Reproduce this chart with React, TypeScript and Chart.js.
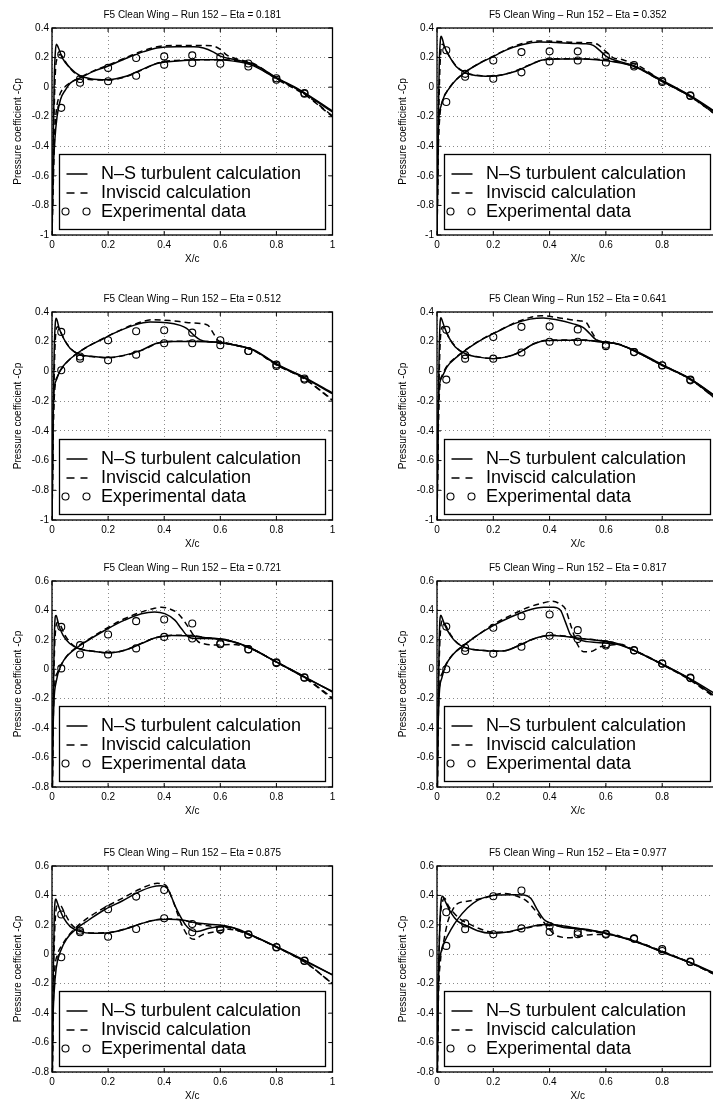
import React, { useEffect, useRef } from 'react';
import { Chart, registerables } from 'chart.js';

Chart.register(...registerables);

type P = [number, number];

// ---------- shared values ----------
const EXP_X = [0.033, 0.1, 0.2, 0.3, 0.4, 0.5, 0.6, 0.7, 0.8, 0.9];
const X_TICKS = [0, 0.2, 0.4, 0.6, 0.8, 1];
const Y_TICKS_A = [-1, -0.8, -0.6, -0.4, -0.2, 0, 0.2, 0.4];
const Y_TICKS_B = [-0.8, -0.6, -0.4, -0.2, 0, 0.2, 0.4, 0.6];
const LEGEND_LABELS = ['N–S turbulent calculation', 'Inviscid calculation', 'Experimental data'];
const ETAS = ['0.181', '0.352', '0.512', '0.641', '0.721', '0.817', '0.875', '0.977'];

// ---------- Eta = 0.181 ----------
const NS_UP_181: P[] = [[0,-1],[0.004,-0.6],[0.01,-0.36],[0.018,-0.2],[0.03,-0.085],[0.048,-0.018],[0.065,0.027],[0.1,0.062],[0.148,0.107],[0.196,0.14],[0.267,0.197],[0.327,0.24],[0.374,0.265],[0.445,0.274],[0.505,0.274],[0.54,0.265],[0.576,0.237],[0.6,0.21],[0.647,0.188],[0.718,0.155],[0.8,0.065],[0.885,-0.02],[1,-0.162]];
const NS_LO_181: P[] = [[0,-1],[0.004,-0.4],[0.008,0.05],[0.012,0.24],[0.016,0.29],[0.022,0.27],[0.036,0.2],[0.065,0.13],[0.1,0.077],[0.137,0.057],[0.196,0.05],[0.267,0.075],[0.315,0.115],[0.374,0.16],[0.469,0.18],[0.53,0.185],[0.588,0.185],[0.647,0.176],[0.707,0.152],[0.8,0.06],[0.885,-0.025],[1,-0.168]];
const INV_UP_181: P[] = [[0,-1],[0.006,-0.55],[0.01,-0.3],[0.016,-0.15],[0.026,-0.06],[0.045,0],[0.065,0.03],[0.1,0.065],[0.15,0.112],[0.2,0.148],[0.27,0.205],[0.33,0.25],[0.38,0.275],[0.45,0.282],[0.52,0.282],[0.57,0.28],[0.6,0.255],[0.625,0.215],[0.66,0.19],[0.72,0.158],[0.8,0.06],[0.9,-0.045],[1,-0.195]];
const INV_LO_181: P[] = [[0,-1],[0.006,-0.3],[0.012,0.1],[0.02,0.2],[0.03,0.22],[0.045,0.18],[0.065,0.125],[0.1,0.07],[0.14,0.05],[0.2,0.048],[0.27,0.075],[0.32,0.115],[0.38,0.165],[0.47,0.183],[0.55,0.185],[0.6,0.185],[0.65,0.18],[0.72,0.15],[0.8,0.055],[0.9,-0.05],[1,-0.2]];
const EXP_UP_181 = [-0.14, 0.055, 0.13, 0.197, 0.208, 0.215, 0.203, 0.16, 0.06, -0.04];
const EXP_LO_181 = [0.22, 0.03, 0.04, 0.077, 0.152, 0.163, 0.158, 0.14, 0.05, -0.045];

// ---------- Eta = 0.352 ----------
const NS_UP_352: P[] = [[0,-1],[0.003,-0.5],[0.006,-0.24],[0.014,-0.13],[0.026,-0.06],[0.044,-0.006],[0.068,0.05],[0.103,0.105],[0.15,0.16],[0.198,0.205],[0.245,0.25],[0.305,0.288],[0.364,0.305],[0.423,0.302],[0.483,0.296],[0.53,0.293],[0.555,0.282],[0.58,0.245],[0.6,0.21],[0.62,0.19],[0.7,0.145],[0.8,0.045],[0.9,-0.058],[1,-0.18]];
const NS_LO_352: P[] = [[0,-1],[0.004,-0.3],[0.008,0.15],[0.012,0.32],[0.015,0.345],[0.02,0.32],[0.026,0.276],[0.044,0.208],[0.068,0.14],[0.1,0.097],[0.139,0.078],[0.186,0.073],[0.234,0.084],[0.28,0.107],[0.33,0.15],[0.376,0.184],[0.447,0.19],[0.518,0.19],[0.566,0.186],[0.613,0.176],[0.696,0.142],[0.8,0.04],[0.9,-0.062],[1,-0.185]];
const INV_UP_352: P[] = [[0,-1],[0.005,-0.4],[0.01,-0.2],[0.02,-0.09],[0.035,-0.03],[0.06,0.035],[0.1,0.1],[0.15,0.162],[0.2,0.21],[0.25,0.258],[0.3,0.293],[0.35,0.312],[0.42,0.31],[0.48,0.303],[0.54,0.3],[0.57,0.29],[0.6,0.24],[0.625,0.2],[0.66,0.185],[0.72,0.14],[0.8,0.042],[0.9,-0.062],[1,-0.2]];
const INV_LO_352: P[] = [[0,-1],[0.006,-0.2],[0.012,0.2],[0.02,0.29],[0.03,0.26],[0.045,0.205],[0.07,0.14],[0.1,0.1],[0.14,0.08],[0.19,0.075],[0.235,0.085],[0.28,0.11],[0.33,0.152],[0.38,0.186],[0.45,0.192],[0.52,0.192],[0.57,0.188],[0.62,0.178],[0.7,0.14],[0.8,0.038],[0.9,-0.065],[1,-0.2]];
const EXP_UP_352 = [-0.1, 0.09, 0.18, 0.237, 0.242, 0.242, 0.21, 0.15, 0.043, -0.056];
const EXP_LO_352 = [0.25, 0.07, 0.057, 0.1, 0.174, 0.18, 0.167, 0.14, 0.035, -0.06];

// ---------- Eta = 0.512 ----------
const NS_UP_512: P[] = [[0,-1],[0.003,-0.5],[0.006,-0.17],[0.015,-0.06],[0.03,0.008],[0.053,0.064],[0.089,0.12],[0.125,0.165],[0.172,0.21],[0.232,0.266],[0.291,0.31],[0.35,0.332],[0.41,0.328],[0.457,0.31],[0.48,0.29],[0.505,0.245],[0.529,0.212],[0.564,0.2],[0.6,0.195],[0.65,0.178],[0.72,0.145],[0.8,0.05],[0.9,-0.04],[1,-0.145]];
const NS_LO_512: P[] = [[0,-1],[0.004,-0.3],[0.008,0.15],[0.012,0.33],[0.015,0.358],[0.019,0.34],[0.024,0.3],[0.042,0.22],[0.065,0.155],[0.1,0.113],[0.137,0.102],[0.196,0.093],[0.255,0.108],[0.315,0.14],[0.374,0.19],[0.433,0.202],[0.505,0.202],[0.576,0.198],[0.647,0.18],[0.719,0.142],[0.8,0.048],[0.897,-0.042],[1,-0.15]];
const INV_UP_512: P[] = [[0,-1],[0.005,-0.35],[0.01,-0.12],[0.02,-0.03],[0.035,0.02],[0.06,0.075],[0.09,0.123],[0.13,0.17],[0.18,0.22],[0.24,0.275],[0.3,0.322],[0.36,0.348],[0.42,0.342],[0.48,0.33],[0.53,0.322],[0.555,0.312],[0.576,0.254],[0.59,0.212],[0.61,0.198],[0.66,0.175],[0.72,0.14],[0.8,0.045],[0.9,-0.05],[1,-0.195]];
const INV_LO_512: P[] = [[0,-1],[0.006,-0.2],[0.012,0.22],[0.02,0.3],[0.03,0.27],[0.045,0.21],[0.07,0.148],[0.1,0.112],[0.14,0.1],[0.2,0.092],[0.26,0.108],[0.32,0.142],[0.38,0.192],[0.44,0.203],[0.51,0.203],[0.58,0.198],[0.65,0.178],[0.72,0.14],[0.8,0.045],[0.9,-0.05],[1,-0.19]];
const EXP_UP_512 = [0.008, 0.1, 0.21, 0.27, 0.277, 0.261, 0.21, 0.138, 0.046, -0.048];
const EXP_LO_512 = [0.266, 0.086, 0.075, 0.113, 0.19, 0.19, 0.176, 0.138, 0.037, -0.055];

// ---------- Eta = 0.641 ----------
const NS_UP_641: P[] = [[0,-1],[0.003,-0.5],[0.006,-0.15],[0.018,-0.037],[0.035,0.03],[0.071,0.098],[0.118,0.165],[0.165,0.221],[0.213,0.266],[0.272,0.32],[0.331,0.352],[0.378,0.36],[0.425,0.348],[0.484,0.32],[0.52,0.295],[0.543,0.254],[0.567,0.21],[0.59,0.2],[0.64,0.185],[0.71,0.135],[0.8,0.045],[0.9,-0.05],[1,-0.18]];
const NS_LO_641: P[] = [[0,-1],[0.004,-0.3],[0.008,0.15],[0.011,0.33],[0.014,0.362],[0.018,0.345],[0.026,0.3],[0.041,0.232],[0.065,0.165],[0.1,0.12],[0.142,0.098],[0.2,0.086],[0.248,0.098],[0.295,0.131],[0.343,0.185],[0.39,0.208],[0.449,0.21],[0.52,0.21],[0.58,0.198],[0.638,0.187],[0.709,0.131],[0.8,0.042],[0.898,-0.048],[1,-0.185]];
const INV_UP_641: P[] = [[0,-1],[0.005,-0.35],[0.01,-0.1],[0.02,-0.02],[0.035,0.035],[0.07,0.1],[0.12,0.17],[0.17,0.228],[0.22,0.275],[0.28,0.33],[0.33,0.362],[0.37,0.375],[0.42,0.365],[0.47,0.35],[0.51,0.34],[0.53,0.33],[0.55,0.265],[0.57,0.21],[0.6,0.198],[0.65,0.182],[0.71,0.13],[0.8,0.04],[0.9,-0.055],[1,-0.2]];
const INV_LO_641: P[] = [[0,-1],[0.006,-0.2],[0.012,0.22],[0.02,0.3],[0.03,0.275],[0.045,0.22],[0.07,0.158],[0.1,0.12],[0.14,0.1],[0.2,0.088],[0.25,0.1],[0.3,0.135],[0.345,0.188],[0.39,0.21],[0.45,0.212],[0.52,0.212],[0.58,0.2],[0.64,0.185],[0.71,0.13],[0.8,0.04],[0.9,-0.052],[1,-0.2]];
const EXP_UP_641 = [-0.055, 0.11, 0.232, 0.3, 0.303, 0.283, 0.18, 0.13, 0.042, -0.055];
const EXP_LO_641 = [0.28, 0.086, 0.086, 0.127, 0.2, 0.2, 0.17, 0.13, 0.04, -0.06];

// ---------- Eta = 0.721 ----------
const NS_UP_721: P[] = [[0,-1],[0.003,-0.5],[0.007,-0.22],[0.015,-0.084],[0.033,0.029],[0.057,0.097],[0.093,0.153],[0.14,0.21],[0.2,0.277],[0.259,0.334],[0.319,0.378],[0.366,0.39],[0.402,0.378],[0.438,0.334],[0.461,0.277],[0.485,0.222],[0.509,0.21],[0.556,0.21],[0.628,0.195],[0.7,0.15],[0.8,0.05],[0.9,-0.055],[1,-0.15]];
const NS_LO_721: P[] = [[0,-1],[0.004,-0.25],[0.008,0.2],[0.012,0.36],[0.015,0.365],[0.019,0.34],[0.024,0.3],[0.039,0.232],[0.063,0.175],[0.099,0.137],[0.14,0.124],[0.2,0.112],[0.259,0.13],[0.319,0.175],[0.366,0.212],[0.426,0.23],[0.485,0.228],[0.556,0.214],[0.628,0.198],[0.699,0.153],[0.794,0.056],[0.9,-0.05],[1,-0.155]];
const INV_UP_721: P[] = [[0,-1],[0.005,-0.3],[0.01,-0.1],[0.02,-0.02],[0.035,0.04],[0.06,0.105],[0.095,0.16],[0.14,0.215],[0.2,0.285],[0.26,0.345],[0.32,0.39],[0.36,0.412],[0.39,0.422],[0.42,0.41],[0.449,0.38],[0.485,0.29],[0.52,0.19],[0.545,0.172],[0.59,0.165],[0.64,0.168],[0.7,0.148],[0.8,0.048],[0.9,-0.058],[1,-0.2]];
const INV_LO_721: P[] = [[0,-1],[0.006,-0.1],[0.012,0.25],[0.02,0.32],[0.03,0.3],[0.045,0.235],[0.07,0.172],[0.1,0.14],[0.14,0.125],[0.2,0.112],[0.26,0.13],[0.32,0.178],[0.37,0.215],[0.43,0.232],[0.49,0.23],[0.55,0.215],[0.62,0.198],[0.7,0.15],[0.8,0.05],[0.9,-0.055],[1,-0.195]];
const EXP_UP_721 = [0.006, 0.164, 0.236, 0.327, 0.338, 0.311, 0.176, 0.137, 0.047, -0.055];
const EXP_LO_721 = [0.288, 0.1, 0.1, 0.142, 0.22, 0.209, 0.17, 0.135, 0.042, -0.058];

// ---------- Eta = 0.817 ----------
const NS_UP_817: P[] = [[0,-1],[0.003,-0.5],[0.008,-0.17],[0.017,-0.06],[0.032,0.03],[0.055,0.097],[0.097,0.164],[0.144,0.232],[0.203,0.3],[0.262,0.355],[0.321,0.4],[0.38,0.422],[0.415,0.422],[0.439,0.4],[0.456,0.322],[0.474,0.235],[0.498,0.205],[0.533,0.188],[0.568,0.182],[0.64,0.17],[0.7,0.128],[0.8,0.035],[0.9,-0.065],[1,-0.18]];
const NS_LO_817: P[] = [[0,-1],[0.004,-0.25],[0.008,0.2],[0.011,0.35],[0.014,0.367],[0.019,0.345],[0.028,0.3],[0.047,0.232],[0.073,0.175],[0.108,0.142],[0.156,0.13],[0.203,0.124],[0.25,0.13],[0.297,0.167],[0.344,0.208],[0.403,0.23],[0.45,0.225],[0.509,0.21],[0.568,0.198],[0.639,0.176],[0.698,0.13],[0.798,0.035],[0.9,-0.07],[1,-0.2]];
const INV_UP_817: P[] = [[0,-1],[0.005,-0.3],[0.01,-0.1],[0.02,-0.02],[0.035,0.045],[0.06,0.108],[0.1,0.172],[0.15,0.24],[0.2,0.305],[0.26,0.365],[0.32,0.418],[0.37,0.448],[0.41,0.462],[0.44,0.44],[0.456,0.41],[0.475,0.3],[0.5,0.165],[0.521,0.12],[0.545,0.12],[0.58,0.153],[0.615,0.164],[0.65,0.17],[0.7,0.13],[0.8,0.035],[0.9,-0.07],[1,-0.2]];
const INV_LO_817: P[] = [[0,-1],[0.006,-0.1],[0.012,0.25],[0.02,0.33],[0.03,0.3],[0.05,0.23],[0.075,0.175],[0.11,0.142],[0.16,0.128],[0.2,0.122],[0.25,0.13],[0.3,0.17],[0.35,0.21],[0.405,0.232],[0.45,0.227],[0.51,0.21],[0.57,0.198],[0.64,0.175],[0.7,0.128],[0.8,0.032],[0.9,-0.075],[1,-0.21]];
const EXP_UP_817 = [0.0, 0.146, 0.282, 0.36, 0.372, 0.266, 0.17, 0.13, 0.04, -0.057];
const EXP_LO_817 = [0.29, 0.124, 0.106, 0.153, 0.228, 0.205, 0.162, 0.128, 0.038, -0.06];

// ---------- Eta = 0.875 ----------
const NS_UP_875: P[] = [[0,-1],[0.003,-0.5],[0.008,-0.25],[0.015,-0.095],[0.03,0.019],[0.054,0.109],[0.089,0.177],[0.131,0.233],[0.19,0.306],[0.25,0.362],[0.31,0.424],[0.357,0.458],[0.387,0.465],[0.411,0.448],[0.423,0.403],[0.44,0.324],[0.458,0.256],[0.476,0.2],[0.494,0.166],[0.518,0.155],[0.56,0.177],[0.607,0.188],[0.65,0.178],[0.7,0.14],[0.8,0.05],[0.9,-0.045],[1,-0.14]];
const NS_LO_875: P[] = [[0,-1],[0.004,-0.2],[0.008,0.25],[0.011,0.36],[0.014,0.376],[0.019,0.35],[0.026,0.313],[0.042,0.245],[0.065,0.188],[0.101,0.154],[0.143,0.143],[0.202,0.147],[0.262,0.172],[0.321,0.21],[0.369,0.233],[0.417,0.238],[0.464,0.233],[0.512,0.215],[0.56,0.204],[0.631,0.188],[0.702,0.136],[0.8,0.052],[0.905,-0.045],[1,-0.14]];
const INV_UP_875: P[] = [[0,-1],[0.005,-0.3],[0.01,-0.1],[0.02,0],[0.035,0.06],[0.06,0.13],[0.09,0.19],[0.13,0.25],[0.19,0.32],[0.25,0.38],[0.31,0.44],[0.35,0.472],[0.375,0.482],[0.405,0.47],[0.428,0.38],[0.458,0.222],[0.482,0.132],[0.506,0.102],[0.536,0.132],[0.583,0.154],[0.63,0.17],[0.7,0.135],[0.8,0.048],[0.9,-0.052],[1,-0.2]];
const INV_LO_875: P[] = [[0,-1],[0.006,-0.1],[0.012,0.25],[0.02,0.33],[0.03,0.33],[0.045,0.28],[0.07,0.2],[0.1,0.162],[0.14,0.145],[0.2,0.147],[0.26,0.172],[0.32,0.21],[0.37,0.235],[0.42,0.24],[0.47,0.232],[0.52,0.205],[0.57,0.19],[0.63,0.18],[0.7,0.135],[0.8,0.05],[0.9,-0.05],[1,-0.2]];
const EXP_UP_875 = [-0.02, 0.16, 0.306, 0.392, 0.437, 0.15, 0.17, 0.136, 0.05, -0.043];
const EXP_LO_875 = [0.27, 0.15, 0.12, 0.172, 0.245, 0.206, 0.166, 0.133, 0.046, -0.046];

// ---------- Eta = 0.977 ----------
const NS_UP_977: P[] = [[0,-1],[0.003,-0.4],[0.005,-0.145],[0.014,0.012],[0.028,0.09],[0.05,0.169],[0.073,0.237],[0.108,0.315],[0.144,0.367],[0.179,0.392],[0.215,0.403],[0.274,0.405],[0.309,0.403],[0.333,0.38],[0.356,0.304],[0.38,0.237],[0.403,0.212],[0.45,0.182],[0.521,0.172],[0.592,0.147],[0.663,0.11],[0.733,0.066],[0.8,0.015],[0.9,-0.058],[1,-0.145]];
const NS_LO_977: P[] = [[0,-1],[0.005,-0.2],[0.01,0.2],[0.015,0.37],[0.02,0.394],[0.025,0.38],[0.032,0.349],[0.05,0.281],[0.073,0.225],[0.108,0.192],[0.144,0.16],[0.191,0.143],[0.25,0.151],[0.309,0.178],[0.368,0.2],[0.403,0.203],[0.45,0.192],[0.521,0.169],[0.592,0.147],[0.663,0.113],[0.733,0.068],[0.8,0.017],[0.9,-0.055],[1,-0.14]];
const INV_UP_977: P[] = [[0,-1],[0.005,-0.3],[0.012,-0.05],[0.025,0.1],[0.038,0.22],[0.055,0.3],[0.073,0.345],[0.108,0.36],[0.167,0.382],[0.238,0.414],[0.285,0.394],[0.32,0.36],[0.356,0.281],[0.39,0.192],[0.427,0.124],[0.474,0.113],[0.545,0.133],[0.616,0.135],[0.67,0.11],[0.74,0.065],[0.8,0.018],[0.9,-0.058],[1,-0.15]];
const INV_LO_977: P[] = [[0,-1],[0.006,-0.1],[0.012,0.25],[0.02,0.36],[0.027,0.38],[0.04,0.33],[0.06,0.28],[0.085,0.235],[0.108,0.212],[0.15,0.175],[0.2,0.15],[0.25,0.152],[0.31,0.175],[0.37,0.195],[0.41,0.196],[0.46,0.185],[0.53,0.162],[0.6,0.14],[0.67,0.108],[0.74,0.065],[0.8,0.02],[0.9,-0.058],[1,-0.15]];
const EXP_UP_977 = [0.057, 0.21, 0.394, 0.434, 0.192, 0.151, 0.14, 0.109, 0.035, -0.05];
const EXP_LO_977 = [0.286, 0.17, 0.136, 0.176, 0.151, 0.136, 0.135, 0.105, 0.022, -0.052];

// ---------- panel table ----------
interface PanelData {
  eta: string;
  nsUp: P[]; nsLo: P[]; invUp: P[]; invLo: P[];
  expUp: number[]; expLo: number[];
  yTicks: number[];
}
const PANELS: PanelData[] = [
  { eta: ETAS[0], nsUp: NS_UP_181, nsLo: NS_LO_181, invUp: INV_UP_181, invLo: INV_LO_181, expUp: EXP_UP_181, expLo: EXP_LO_181, yTicks: Y_TICKS_A },
  { eta: ETAS[1], nsUp: NS_UP_352, nsLo: NS_LO_352, invUp: INV_UP_352, invLo: INV_LO_352, expUp: EXP_UP_352, expLo: EXP_LO_352, yTicks: Y_TICKS_A },
  { eta: ETAS[2], nsUp: NS_UP_512, nsLo: NS_LO_512, invUp: INV_UP_512, invLo: INV_LO_512, expUp: EXP_UP_512, expLo: EXP_LO_512, yTicks: Y_TICKS_A },
  { eta: ETAS[3], nsUp: NS_UP_641, nsLo: NS_LO_641, invUp: INV_UP_641, invLo: INV_LO_641, expUp: EXP_UP_641, expLo: EXP_LO_641, yTicks: Y_TICKS_A },
  { eta: ETAS[4], nsUp: NS_UP_721, nsLo: NS_LO_721, invUp: INV_UP_721, invLo: INV_LO_721, expUp: EXP_UP_721, expLo: EXP_LO_721, yTicks: Y_TICKS_B },
  { eta: ETAS[5], nsUp: NS_UP_817, nsLo: NS_LO_817, invUp: INV_UP_817, invLo: INV_LO_817, expUp: EXP_UP_817, expLo: EXP_LO_817, yTicks: Y_TICKS_B },
  { eta: ETAS[6], nsUp: NS_UP_875, nsLo: NS_LO_875, invUp: INV_UP_875, invLo: INV_LO_875, expUp: EXP_UP_875, expLo: EXP_LO_875, yTicks: Y_TICKS_B },
  { eta: ETAS[7], nsUp: NS_UP_977, nsLo: NS_LO_977, invUp: INV_UP_977, invLo: INV_LO_977, expUp: EXP_UP_977, expLo: EXP_LO_977, yTicks: Y_TICKS_B },
];

// ---------- layout (pixels) ----------
const ROW_TOP = [28, 312, 581, 866];
const ROW_BOTTOM = [235, 520, 787, 1072];
const COL_LEFT = [52, 437];
const COL_RIGHT = [332.5, 718.5];
const CANVAS_X = [0, 356];
const CANVAS_W = [356, 380];
const YTITLE_X = [18.5, 403];
const TITLE_H = 28;
const XAXIS_H = 30;
const FONT = 'Liberation Sans, Arial, Helvetica, sans-serif';

const fmt = (v: number | string) => {
  const n = Math.round(Number(v) * 10) / 10;
  return String(n === 0 ? 0 : n);
};

const framePlugin = {
  id: 'matlabFrame',
  afterDatasetsDraw(chart: any) {
    const { ctx, chartArea: a, scales } = chart;
    ctx.save();
    // legend box
    const lw = 266, lh = 75;
    const lx = a.left + 7.5;
    const ly = a.bottom - 5.5 - lh;
    ctx.fillStyle = '#fff';
    ctx.fillRect(lx, ly, lw, lh);
    ctx.strokeStyle = '#000';
    ctx.lineWidth = 1.3;
    ctx.strokeRect(lx, ly, lw, lh);
    const rows = [ly + 19.5, ly + 38.5, ly + 57];
    ctx.lineWidth = 1.5;
    ctx.setLineDash([]);
    ctx.beginPath(); ctx.moveTo(lx + 7, rows[0]); ctx.lineTo(lx + 28, rows[0]); ctx.stroke();
    ctx.setLineDash([8, 6]);
    ctx.beginPath(); ctx.moveTo(lx + 7, rows[1]); ctx.lineTo(lx + 28, rows[1]); ctx.stroke();
    ctx.setLineDash([]);
    ctx.lineWidth = 1.1;
    [lx + 6, lx + 27].forEach((cx) => {
      ctx.beginPath(); ctx.arc(cx, rows[2], 3.5, 0, Math.PI * 2); ctx.stroke();
    });
    ctx.fillStyle = '#000';
    ctx.font = `18px ${FONT}`;
    ctx.textAlign = 'left';
    ctx.textBaseline = 'middle';
    LEGEND_LABELS.forEach((t, i) => ctx.fillText(t, lx + 41.5, rows[i] + 0.5));
    // frame
    ctx.lineWidth = 1.3;
    ctx.strokeRect(a.left, a.top, a.right - a.left, a.bottom - a.top);
    // inner ticks
    ctx.lineWidth = 1;
    const tl = 4;
    scales.x.ticks.forEach((t: any) => {
      const px = scales.x.getPixelForValue(t.value);
      ctx.beginPath();
      ctx.moveTo(px, a.bottom); ctx.lineTo(px, a.bottom - tl);
      ctx.moveTo(px, a.top); ctx.lineTo(px, a.top + tl);
      ctx.stroke();
    });
    scales.y.ticks.forEach((t: any) => {
      const py = scales.y.getPixelForValue(t.value);
      ctx.beginPath();
      ctx.moveTo(a.left, py); ctx.lineTo(a.left + tl, py);
      ctx.moveTo(a.right, py); ctx.lineTo(a.right - tl, py);
      ctx.stroke();
    });
    ctx.restore();
  },
};

const toXY = (pts: P[]) => pts.map(([x, y]) => ({ x, y }));

function Panel({ index }: { index: number }) {
  const ref = useRef<HTMLCanvasElement>(null);
  const p = PANELS[index];
  const col = index % 2;
  const row = Math.floor(index / 2);
  const plotH = ROW_BOTTOM[row] - ROW_TOP[row];
  const top = ROW_TOP[row] - TITLE_H;
  const height = TITLE_H + plotH + XAXIS_H;
  const width = CANVAS_W[col];
  const left = CANVAS_X[col];
  const yW = COL_LEFT[col] - CANVAS_X[col];
  const padR = CANVAS_X[col] + CANVAS_W[col] - COL_RIGHT[col];
  const yTitlePad = YTITLE_X[col] - CANVAS_X[col] - 6;

  useEffect(() => {
    const line = (pts: P[], dash: number[]) => ({
      data: toXY(pts),
      borderColor: '#000',
      borderWidth: 1.5,
      borderDash: dash,
      pointRadius: 0,
      fill: false,
      cubicInterpolationMode: 'monotone' as const,
    });
    const exp = (vals: number[]) => ({
      data: EXP_X.map((x, i) => ({ x, y: vals[i] })),
      showLine: false,
      pointRadius: 3.5,
      pointStyle: 'circle' as const,
      pointBorderColor: '#000',
      pointBackgroundColor: 'rgba(0,0,0,0)',
      pointBorderWidth: 1.1,
      borderColor: '#000',
    });
    const tickFont = { family: FONT, size: 10 };
    const chart = new Chart(ref.current as HTMLCanvasElement, {
      type: 'line',
      data: {
        datasets: [
          line(p.nsUp, []),
          line(p.nsLo, []),
          line(p.invUp, [6, 4]),
          line(p.invLo, [6, 4]),
          exp(p.expUp),
          exp(p.expLo),
        ] as any,
      },
      options: {
        responsive: false,
        animation: false,
        devicePixelRatio: 1,
        events: [],
        layout: { padding: { left: 0, right: padR, top: 0, bottom: 0 } },
        plugins: {
          legend: { display: false },
          tooltip: { enabled: false },
          title: {
            display: true,
            text: `F5 Clean Wing – Run 152 – Eta = ${p.eta}`,
            fullSize: false,
            color: '#000',
            font: { family: FONT, size: 10, weight: 'normal' },
            padding: { top: 9.5, bottom: 6.5 },
          },
        },
        scales: {
          x: {
            type: 'linear',
            min: 0,
            max: 1,
            afterBuildTicks: (s: any) => { s.ticks = X_TICKS.map((v) => ({ value: v })); },
            afterFit: (s: any) => { s.height = XAXIS_H; },
            grid: { color: '#8a8a8a', lineWidth: 1, drawTicks: false },
            border: { display: false, dash: [1, 3] },
            ticks: { padding: 4.5, color: '#000', font: tickFont, callback: fmt, maxRotation: 0, autoSkip: false },
            title: { display: true, text: 'X/c', color: '#000', font: tickFont, padding: 0 },
          },
          y: {
            type: 'linear',
            min: p.yTicks[0],
            max: p.yTicks[p.yTicks.length - 1],
            afterBuildTicks: (s: any) => { s.ticks = p.yTicks.map((v) => ({ value: v })); },
            afterFit: (s: any) => { s.width = yW; },
            grid: { color: '#8a8a8a', lineWidth: 1, drawTicks: false },
            border: { display: false, dash: [1, 3] },
            ticks: { padding: 3, color: '#000', font: tickFont, callback: fmt, autoSkip: false },
            title: { display: true, text: 'Pressure coefficient -Cp', color: '#000', font: tickFont, padding: { top: yTitlePad, bottom: 0 } },
          },
        },
      } as any,
      plugins: [framePlugin],
    });
    return () => chart.destroy();
  }, []);

  return (
    <canvas
      ref={ref}
      width={width}
      height={height}
      style={{ position: 'absolute', left, top, width, height }}
    />
  );
}

export default function App() {
  return (
    <div style={{ position: 'absolute', left: 0, top: 0, width: 713, height: 1100, overflow: 'hidden', background: '#fff' }}>
      {PANELS.map((_, i) => (
        <Panel key={i} index={i} />
      ))}
    </div>
  );
}
